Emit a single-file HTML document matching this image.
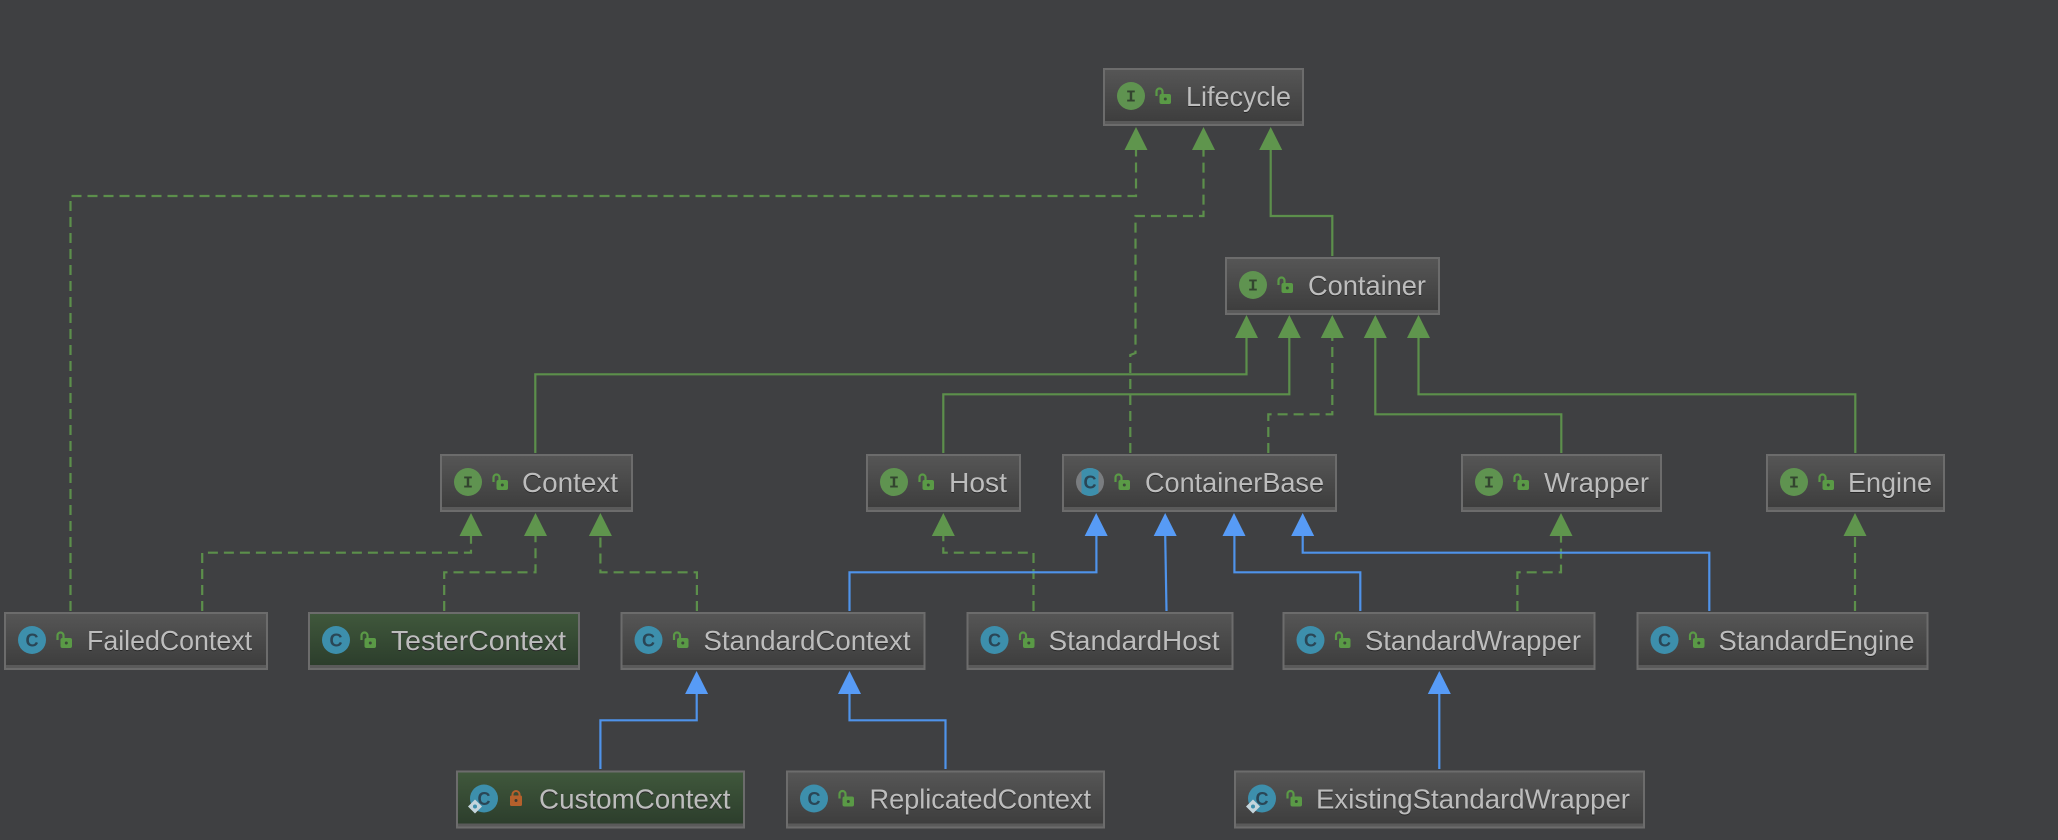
<!DOCTYPE html>
<html><head><meta charset="utf-8"><style>
html,body{margin:0;padding:0;background:#3f4042;width:2058px;height:840px;overflow:hidden}
svg{display:block}
.g{fill:none;stroke:#5c8f4b;stroke-width:2.2}
.gd{fill:none;stroke:#5c8f4b;stroke-width:2.2;stroke-dasharray:10 6}
.bl{fill:none;stroke:#4f93ea;stroke-width:2.2}
.ag{fill:#5f954d}.ab{fill:#579bf6}
.box{stroke:#6c6c6c;stroke-width:2}
.band{fill:#5a5a5a}
.lb{font:28px "Liberation Sans",sans-serif;fill:#bdbdbd;filter:drop-shadow(0 1px 0 #262626)}
.ii{font:bold 17px "Liberation Mono",monospace;text-anchor:middle}
.ic{font:bold 18px "Liberation Sans",sans-serif;text-anchor:middle}
</style></head><body>
<svg width="2058" height="840" viewBox="0 0 2058 840" xmlns="http://www.w3.org/2000/svg">
<defs>
<linearGradient id="n" x1="0" y1="0" x2="0" y2="1"><stop offset="0" stop-color="#565656"/><stop offset="1" stop-color="#3c3c3c"/></linearGradient>
<linearGradient id="t" x1="0" y1="0" x2="0" y2="1"><stop offset="0" stop-color="#40583c"/><stop offset="1" stop-color="#2b3c2b"/></linearGradient>
<symbol id="lk" width="16" height="16" viewBox="0 0 16 16" overflow="visible">
<path d="M1.5 8V3.5a3 3 0 0 1 6 0V6" fill="none" stroke="#5a9a46" stroke-width="2.2"/>
<rect x="4.5" y="6" width="11.5" height="10" rx="2" fill="#5a9a46"/><circle cx="10.3" cy="11" r="1.5" fill="#3a4a38"/>
</symbol>
<symbol id="lo" width="12" height="16" viewBox="0 0 12 16" overflow="visible">
<path d="M2.5 7V4.5a3.5 3.5 0 0 1 7 0V7" fill="none" stroke="#b5602c" stroke-width="2"/>
<rect x="0" y="5.5" width="12" height="10.5" rx="1.5" fill="#b5602c"/><circle cx="6" cy="10.5" r="1.5" fill="#3f3a30"/>
</symbol>
<clipPath id="cb"><rect x="19.5" y="0" width="17" height="58"/></clipPath>
</defs>
<rect width="2058" height="840" fill="#3f4042"/>

<!-- connectors -->
<path class="gd" d="M70.5 611V196H1136V149"/>
<path class="gd" d="M1130.3 453V355L1135.5 353V216H1203.5V149"/>
<path class="g" d="M1332.3 256V216H1270.7V149"/>
<path class="g" d="M535.3 453V374.3H1246.5V337"/>
<path class="g" d="M943.3 453V394.3H1289.3V337"/>
<path class="gd" d="M1268.3 453V414.3H1332.3V337"/>
<path class="g" d="M1561.3 453V414.3H1375.3V337"/>
<path class="g" d="M1855.3 453V394.3H1418.5V337"/>
<path class="gd" d="M202.2 611V552.7H471V535"/>
<path class="gd" d="M444.2 611V572.3H535.5V535"/>
<path class="gd" d="M696.9 611V572.3H600.4V535"/>
<path class="gd" d="M1033.5 611V552.7H943.3V535"/>
<path class="gd" d="M1517.4 611V572.3H1561V535"/>
<path class="gd" d="M1855 611V535"/>
<path class="bl" d="M849.5 611V572.3H1096.4V535"/>
<path class="bl" d="M1166.5 611L1165.2 535"/>
<path class="bl" d="M1360.3 611V572.3H1234.4V535"/>
<path class="bl" d="M1709.3 611V552.7H1302.7V535"/>
<path class="bl" d="M600.4 769V720.3H696.7V693"/>
<path class="bl" d="M945.5 769V720.3H849.5V693"/>
<path class="bl" d="M1439.3 769V693"/>

<!-- arrowheads -->
<g class="ag">
<polygon points="1136,127 1124.5,150 1147.5,150"/>
<polygon points="1203.5,127 1192,150 1215,150"/>
<polygon points="1270.7,127 1259.2,150 1282.2,150"/>
<polygon points="1246.5,315 1235,338 1258,338"/>
<polygon points="1289.3,315 1277.8,338 1300.8,338"/>
<polygon points="1332.3,315 1320.8,338 1343.8,338"/>
<polygon points="1375.3,315 1363.8,338 1386.8,338"/>
<polygon points="1418.5,315 1407,338 1430,338"/>
<polygon points="471,513 459.5,536 482.5,536"/>
<polygon points="535.5,513 524,536 547,536"/>
<polygon points="600.4,513 588.9,536 611.9,536"/>
<polygon points="943.3,513 931.8,536 954.8,536"/>
<polygon points="1561,513 1549.5,536 1572.5,536"/>
<polygon points="1855,513 1843.5,536 1866.5,536"/>
</g>
<g class="ab">
<polygon points="1096.2,513 1084.7,536 1107.7,536"/>
<polygon points="1165.2,513 1153.7,536 1176.7,536"/>
<polygon points="1234,513 1222.5,536 1245.5,536"/>
<polygon points="1302.7,513 1291.2,536 1314.2,536"/>
<polygon points="696.6,671 685.1,694 708.1,694"/>
<polygon points="849.5,671 838,694 861,694"/>
<polygon points="1439.3,671 1427.8,694 1450.8,694"/>
</g>

<!-- nodes -->
<g transform="translate(1103,68)"><rect class="box" x="1" y="1" width="199" height="56" fill="url(#n)"/><rect class="band" x="2" y="53" width="197" height="3"/><circle cx="28" cy="28" r="14" fill="#5f9350"/><text class="ii" x="28" y="33.5" fill="#33452f">I</text><use href="#lk" x="52" y="20"/><text class="lb" x="83" y="38" textLength="105" lengthAdjust="spacingAndGlyphs">Lifecycle</text></g>
<g transform="translate(1225,257)"><rect class="box" x="1" y="1" width="213" height="56" fill="url(#n)"/><rect class="band" x="2" y="53" width="211" height="3"/><circle cx="28" cy="28" r="14" fill="#5f9350"/><text class="ii" x="28" y="33.5" fill="#33452f">I</text><use href="#lk" x="52" y="20"/><text class="lb" x="83" y="38" textLength="118" lengthAdjust="spacingAndGlyphs">Container</text></g>
<g transform="translate(440,454)"><rect class="box" x="1" y="1" width="191" height="56" fill="url(#n)"/><rect class="band" x="2" y="53" width="189" height="3"/><circle cx="28" cy="28" r="14" fill="#5f9350"/><text class="ii" x="28" y="33.5" fill="#33452f">I</text><use href="#lk" x="52" y="20"/><text class="lb" x="82" y="38" textLength="96" lengthAdjust="spacingAndGlyphs">Context</text></g>
<g transform="translate(866,454)"><rect class="box" x="1" y="1" width="153" height="56" fill="url(#n)"/><rect class="band" x="2" y="53" width="151" height="3"/><circle cx="28" cy="28" r="14" fill="#5f9350"/><text class="ii" x="28" y="33.5" fill="#33452f">I</text><use href="#lk" x="52" y="20"/><text class="lb" x="83" y="38" textLength="58" lengthAdjust="spacingAndGlyphs">Host</text></g>
<g transform="translate(1062,454)"><rect class="box" x="1" y="1" width="273" height="56" fill="url(#n)"/><rect class="band" x="2" y="53" width="271" height="3"/><circle cx="28" cy="28" r="14" fill="#7a7d80"/><circle cx="28" cy="28" r="14" fill="#3d8fac" clip-path="url(#cb)"/><text class="ic" x="28" y="34.5" fill="#2a4656">C</text><use href="#lk" x="52" y="20"/><text class="lb" x="83" y="38" textLength="179" lengthAdjust="spacingAndGlyphs">ContainerBase</text></g>
<g transform="translate(1461,454)"><rect class="box" x="1" y="1" width="199" height="56" fill="url(#n)"/><rect class="band" x="2" y="53" width="197" height="3"/><circle cx="28" cy="28" r="14" fill="#5f9350"/><text class="ii" x="28" y="33.5" fill="#33452f">I</text><use href="#lk" x="52" y="20"/><text class="lb" x="83" y="38" textLength="105" lengthAdjust="spacingAndGlyphs">Wrapper</text></g>
<g transform="translate(1766,454)"><rect class="box" x="1" y="1" width="177" height="56" fill="url(#n)"/><rect class="band" x="2" y="53" width="175" height="3"/><circle cx="28" cy="28" r="14" fill="#5f9350"/><text class="ii" x="28" y="33.5" fill="#33452f">I</text><use href="#lk" x="52" y="20"/><text class="lb" x="82" y="38" textLength="84" lengthAdjust="spacingAndGlyphs">Engine</text></g>

<g transform="translate(4,612)"><rect class="box" x="1" y="1" width="262" height="56" fill="url(#n)"/><rect class="band" x="2" y="53" width="260" height="3"/><circle cx="28" cy="28" r="14" fill="#3d8fac"/><text class="ic" x="28" y="34.5" fill="#2a4656">C</text><use href="#lk" x="52" y="20"/><text class="lb" x="83" y="38" textLength="165" lengthAdjust="spacingAndGlyphs">FailedContext</text></g>
<g transform="translate(308,612)"><rect class="box" x="1" y="1" width="270" height="56" fill="url(#t)"/><rect class="band" x="2" y="53" width="268" height="3"/><circle cx="28" cy="28" r="14" fill="#3d8fac"/><text class="ic" x="28" y="34.5" fill="#2a4656">C</text><use href="#lk" x="52" y="20"/><text class="lb" x="83" y="38" textLength="175" lengthAdjust="spacingAndGlyphs">TesterContext</text></g>
<g transform="translate(620.5,612)"><rect class="box" x="1" y="1" width="303" height="56" fill="url(#n)"/><rect class="band" x="2" y="53" width="301" height="3"/><circle cx="28" cy="28" r="14" fill="#3d8fac"/><text class="ic" x="28" y="34.5" fill="#2a4656">C</text><use href="#lk" x="52" y="20"/><text class="lb" x="83" y="38" textLength="207" lengthAdjust="spacingAndGlyphs">StandardContext</text></g>
<g transform="translate(966.5,612)"><rect class="box" x="1" y="1" width="265" height="56" fill="url(#n)"/><rect class="band" x="2" y="53" width="263" height="3"/><circle cx="28" cy="28" r="14" fill="#3d8fac"/><text class="ic" x="28" y="34.5" fill="#2a4656">C</text><use href="#lk" x="52" y="20"/><text class="lb" x="82" y="38" textLength="171" lengthAdjust="spacingAndGlyphs">StandardHost</text></g>
<g transform="translate(1282.5,612)"><rect class="box" x="1" y="1" width="311" height="56" fill="url(#n)"/><rect class="band" x="2" y="53" width="309" height="3"/><circle cx="28" cy="28" r="14" fill="#3d8fac"/><text class="ic" x="28" y="34.5" fill="#2a4656">C</text><use href="#lk" x="52" y="20"/><text class="lb" x="82.5" y="38" textLength="216" lengthAdjust="spacingAndGlyphs">StandardWrapper</text></g>
<g transform="translate(1636.5,612)"><rect class="box" x="1" y="1" width="290" height="56" fill="url(#n)"/><rect class="band" x="2" y="53" width="288" height="3"/><circle cx="28" cy="28" r="14" fill="#3d8fac"/><text class="ic" x="28" y="34.5" fill="#2a4656">C</text><use href="#lk" x="52" y="20"/><text class="lb" x="82" y="38" textLength="196" lengthAdjust="spacingAndGlyphs">StandardEngine</text></g>

<g transform="translate(456,770.5)"><rect class="box" x="1" y="1" width="287" height="56" fill="url(#t)"/><rect class="band" x="2" y="53" width="285" height="3"/><circle cx="28" cy="28" r="14" fill="#3d8fac"/><text class="ic" x="28" y="34.5" fill="#2a4656">C</text><polygon points="19,29 26,36 19,43 12,36" fill="#c5d5dc"/><circle cx="19" cy="36" r="2" fill="#3d8fac"/><use href="#lo" x="54" y="19.5"/><text class="lb" x="83" y="38" textLength="191.5" lengthAdjust="spacingAndGlyphs">CustomContext</text></g>
<g transform="translate(786,770.5)"><rect class="box" x="1" y="1" width="317" height="56" fill="url(#n)"/><rect class="band" x="2" y="53" width="315" height="3"/><circle cx="28" cy="28" r="14" fill="#3d8fac"/><text class="ic" x="28" y="34.5" fill="#2a4656">C</text><use href="#lk" x="52" y="20"/><text class="lb" x="83.5" y="38" textLength="221.5" lengthAdjust="spacingAndGlyphs">ReplicatedContext</text></g>
<g transform="translate(1234,770.5)"><rect class="box" x="1" y="1" width="409" height="56" fill="url(#n)"/><rect class="band" x="2" y="53" width="407" height="3"/><circle cx="28" cy="28" r="14" fill="#3d8fac"/><text class="ic" x="28" y="34.5" fill="#2a4656">C</text><polygon points="19,29 26,36 19,43 12,36" fill="#c5d5dc"/><circle cx="19" cy="36" r="2" fill="#3d8fac"/><use href="#lk" x="52" y="20"/><text class="lb" x="82" y="38" textLength="314" lengthAdjust="spacingAndGlyphs">ExistingStandardWrapper</text></g>
</svg>
</body></html>
